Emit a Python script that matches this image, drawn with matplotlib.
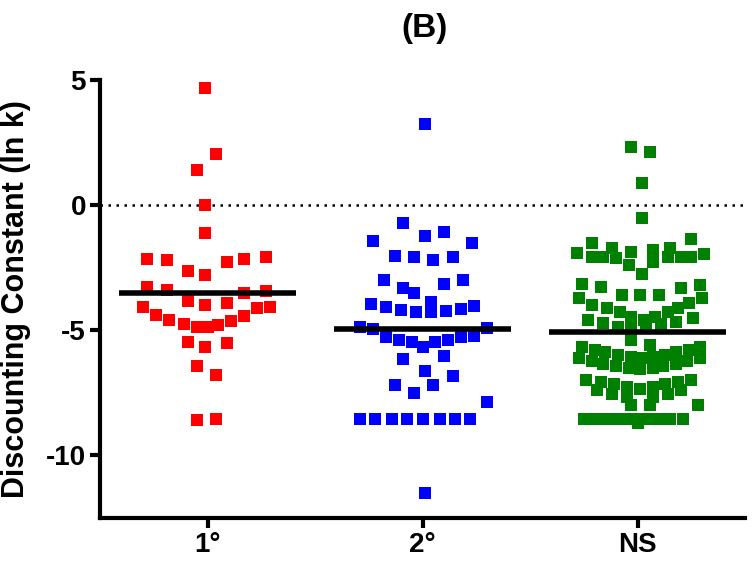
import numpy as np
import matplotlib
matplotlib.use("Agg")
import matplotlib.pyplot as plt

plt.rcParams['font.family'] = ['Liberation Sans', 'DejaVu Sans']

# group labels and colours
groups = ['1°', '2°', 'NS']
colors = ['#ff0000', '#0000ff', '#008000']
means = [-3.53, -4.94, -5.06]

# 1° group: ln k values and horizontal scatter offsets (category units)
y_primary = [4.7, 2.03, 1.4, 0.0, -1.1,
             -2.15, -2.2, -2.27, -2.15, -2.07,
             -2.63, -2.79,
             -3.27, -3.39, -3.5, -3.43,
             -3.82, -3.98, -3.9,
             -4.06, -4.38, -4.58, -4.74, -4.86, -4.86, -4.78, -4.62, -4.42, -4.1, -4.06,
             -5.46, -5.66, -5.5,
             -6.41, -6.77,
             -8.6, -8.53]
x_primary = [-0.01, 0.04, -0.05, -0.01, -0.01,
             -0.28, -0.19, 0.09, 0.17, 0.27,
             -0.09, -0.01,
             -0.28, -0.19, 0.17, 0.27,
             -0.09, -0.01, 0.09,
             -0.30, -0.24, -0.18, -0.11, -0.05, 0.00, 0.05, 0.11, 0.17, 0.23, 0.29,
             -0.09, -0.01, 0.09,
             -0.05, 0.04,
             -0.05, 0.04]

# 2° group
y_secondary = [3.23, -0.72, -1.43, -1.24, -1.08, -1.51,
               -2.03, -2.07, -2.19, -2.07,
               -2.99, -2.99, -3.31, -3.5, -3.15,
               -3.94, -4.06, -4.18, -4.26, -3.86, -4.26, -4.22, -4.14, -4.02,
               -4.86, -4.94, -4.9,
               -5.26, -5.38, -5.46, -5.66, -5.46, -5.38, -5.26, -5.22,
               -6.14, -6.02, -6.61, -6.81, -7.17, -7.17, -7.49, -7.85,
               -8.53, -8.53, -8.53, -8.53, -8.53, -8.53, -8.53, -8.53,
               -11.5]
x_secondary = [0.01, -0.09, -0.23, 0.01, 0.10, 0.23,
               -0.13, -0.04, 0.05, 0.14,
               -0.18, 0.19, -0.09, -0.04, 0.10,
               -0.24, -0.17, -0.10, -0.03, 0.04, 0.04, 0.11, 0.18, 0.24,
               -0.29, -0.23, 0.30,
               -0.17, -0.11, -0.05, 0.00, 0.06, 0.12, 0.18, 0.24,
               -0.09, 0.10, 0.01, 0.14, -0.13, 0.05, -0.04, 0.30,
               -0.29, -0.22, -0.14, -0.07, 0.00, 0.08, 0.15, 0.22,
               0.01]

# NS group
y_ns = [2.31, 2.11, 0.88, -0.52, -1.35,
        -1.91, -1.51, -2.07, -2.07, -1.71, -2.11, -1.87, -2.39, -2.75,
        -1.79, -2.27, -1.71, -2.07, -2.07, -2.07, -1.95,
        -3.15, -3.27, -3.59, -3.59, -3.59, -3.31, -3.19,
        -3.71, -3.98, -4.10, -4.26, -4.46, -4.58, -4.46, -4.26, -4.10, -3.90, -3.71,
        -4.58, -4.70, -4.86, -4.94, -4.86, -4.74, -4.66, -4.50,
        -5.38, -5.58,
        -5.66, -5.78, -5.86, -5.98, -6.06, -6.10, -6.06, -5.98, -5.86, -5.78, -5.66,
        -6.10, -6.22, -6.33, -6.41, -6.49, -6.53, -6.49, -6.41, -6.33, -6.22, -6.10,
        -6.97, -7.05, -7.13, -7.25, -7.33, -7.25, -7.13, -7.05, -6.97,
        -7.37, -7.53, -7.65, -7.65, -7.53, -7.37,
        -7.97, -7.97, -7.97,
        -8.53, -8.53, -8.53, -8.53, -8.53, -8.53, -8.53, -8.53, -8.53, -8.53, -8.7]
x_ns = [-0.03, 0.06, 0.02, 0.02, 0.25,
        -0.28, -0.21, -0.21, -0.16, -0.12, -0.10, -0.03, -0.04, 0.02,
        0.07, 0.07, 0.15, 0.14, 0.20, 0.25, 0.31,
        -0.26, -0.17, -0.07, 0.01, 0.10, 0.20, 0.29,
        -0.27, -0.21, -0.14, -0.08, -0.03, 0.03, 0.08, 0.14, 0.19, 0.24, 0.30,
        -0.23, -0.16, -0.09, -0.03, 0.04, 0.11, 0.18, 0.26,
        -0.03, 0.06,
        -0.26, -0.20, -0.15, -0.09, -0.03, 0.02, 0.07, 0.13, 0.18, 0.24, 0.29,
        -0.27, -0.21, -0.16, -0.10, -0.04, 0.01, 0.07, 0.12, 0.18, 0.23, 0.29,
        -0.24, -0.17, -0.11, -0.05, 0.01, 0.07, 0.13, 0.19, 0.25,
        -0.19, -0.12, -0.05, 0.07, 0.14, 0.20,
        -0.03, 0.06, 0.28,
        -0.25, -0.20, -0.15, -0.10, -0.05, 0.00, 0.05, 0.10, 0.15, 0.21, 0.00]

y_sets = [y_primary, y_secondary, y_ns]
x_sets = [x_primary, x_secondary, x_ns]

fig = plt.figure(figsize=(7.55, 5.63), dpi=100)
ax = fig.add_axes([100 / 755, 1 - 518 / 563, 645 / 755, 438 / 563])

# zero reference line
ax.axhline(0, color='black', linestyle=(0, (1, 2.2)), linewidth=1.8, zorder=1)

for i, (ys, xs) in enumerate(zip(y_sets, x_sets)):
    pos = i + 1
    ax.scatter(pos + np.array(xs), ys, marker='s', s=85, color=colors[i],
               linewidths=0, zorder=2)
    ax.plot([pos - 0.41, pos + 0.41], [means[i], means[i]], color='black',
            linewidth=4, solid_capstyle='butt', zorder=3)

ax.set_xlim(0.5, 3.5)
ax.set_ylim(-12.5, 5)
ax.set_xticks([1, 2, 3])
ax.set_xticklabels(groups, fontsize=20, fontweight='bold')
ax.set_yticks([5, 0, -5, -10])
ax.set_yticklabels(['5', '0', '-5', '-10'], fontsize=20, fontweight='bold')
ax.set_ylabel('Discounting Constant (ln k)', fontsize=22, fontweight='bold')
ax.yaxis.set_label_coords(-0.107, 0.5)

for side in ['top', 'right']:
    ax.spines[side].set_visible(False)
for side in ['left', 'bottom']:
    ax.spines[side].set_linewidth(3)
ax.tick_params(axis='both', width=3, length=7, pad=3)

fig.text(424 / 755, 1 - 28 / 563, '(B)', ha='center', va='center',
         fontsize=24, fontweight='bold')

fig.savefig('out.png', dpi=100)
